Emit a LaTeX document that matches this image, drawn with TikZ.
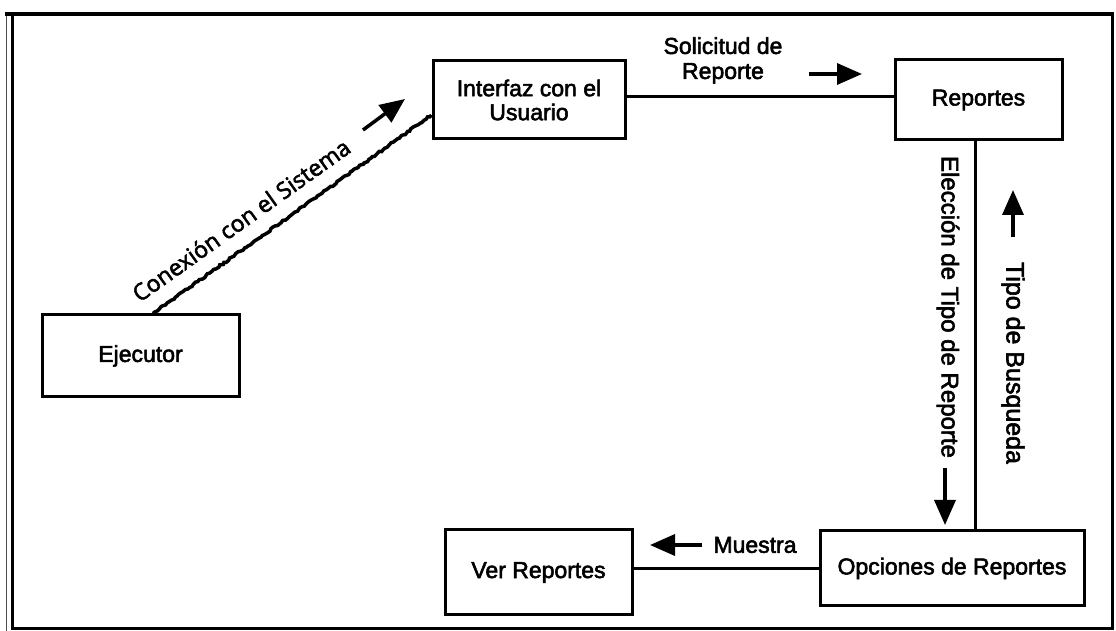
\documentclass[tikz,border=0pt]{standalone}
\usepackage{fontspec}
\setmainfont{Liberation Sans}
\newfontfamily\boxfont{Liberation Sans}[FakeBold=2.4]
\newfontfamily\slantlabelfont{Open Sans}[FakeBold=2.4]
\usetikzlibrary{arrows.meta,calc,decorations.pathmorphing}

\begin{document}
\begin{tikzpicture}[x=1pt,y=1pt,
  box/.style={draw, line width=3pt, inner sep=0pt, align=center,
    font=\boxfont\fontsize{23}{24}\selectfont},
  conn/.style={line width=3pt},
  lbl/.style={inner sep=0pt, align=center, font=\boxfont\fontsize{23}{25}\selectfont},
  vlbl/.style={lbl, rotate=-90},
  marker/.style={line width=3.5pt, -{Triangle[length=25pt,width=21pt]}}]
\pgfmathsetseed{7}
\useasboundingbox (0,0) rectangle (1116,631);

% outer frame with its shadow line on the left
\draw[line width=1pt, black!70] (6,0) -- (6,617);
\draw[line width=3pt] (12,2) rectangle (1112,617);
\draw[line width=4pt] (5,617) -- (1112,617);

% boxes
\node[box, minimum width=197pt, minimum height=82pt] (ejec)  at (140.5,275) {Ejecutor};
\node[box, minimum width=192pt, minimum height=78pt] (iface) at (529,531) {Interfaz con el\\Usuario};
\node[box, minimum width=167pt, minimum height=80pt] (rep)   at (978.5,531) {Reportes};
\node[box, minimum width=187pt, minimum height=85pt] (ver)   at (538.5,58.5) {Ver Reportes};
\node[box, minimum width=264pt, minimum height=75pt] (opc)   at (952,62.5) {Opciones de Reportes};

% connectors
\draw[conn, line width=3.5pt, decorate, decoration={random steps, segment length=2.5pt, amplitude=0.9pt}]
  ([xshift=12.5pt]ejec.north) -- ([yshift=-15pt]iface.west);
\draw[conn] ([yshift=3pt]iface.east) -- ([yshift=3pt]iface.east -| rep.west);
\draw[conn] ([xshift=-3.5pt]rep.south) -- ([xshift=-3.5pt]rep.south |- opc.north);
\draw[conn] ([yshift=3.5pt]ver.east) -- ([yshift=3.5pt]ver.east -| opc.west);

% connector labels
\node[lbl] (solic) at (723,570.5) {Solicitud de\\Reporte};
\node[lbl] (muestra) at (755,86) {Muestra};
\node[vlbl, font=\boxfont\fontsize{24}{25}\selectfont] (elec) at (948,324) {Elección de Tipo de Reporte};
\node[vlbl, font=\boxfont\fontsize{25}{25}\selectfont] (tipob) at (1013,268) {Tipo de Busqueda};
\node[inner sep=0pt, rotate=35.5, font=\slantlabelfont\fontsize{23}{25}\selectfont]
  (conlbl) at (241,411) {Conexión con el Sistema};

% direction markers
\coordinate (ca) at (363,501);  \coordinate (cb) at (405,532);
\coordinate (sa) at (809,557);  \coordinate (sb) at (862,557);
\coordinate (ea) at (945,163);  \coordinate (eb) at (945,106);
\coordinate (ta) at (1013,394); \coordinate (tb) at (1013,441);
\coordinate (ma) at (702,86);   \coordinate (mb) at (650,86);
\draw[marker] (ca) -- (cb);
\draw[marker] (sa) -- (sb);
\draw[marker] (ea) -- (eb);
\draw[marker] (ta) -- (tb);
\draw[marker] (ma) -- (mb);
\end{tikzpicture}
\end{document}
